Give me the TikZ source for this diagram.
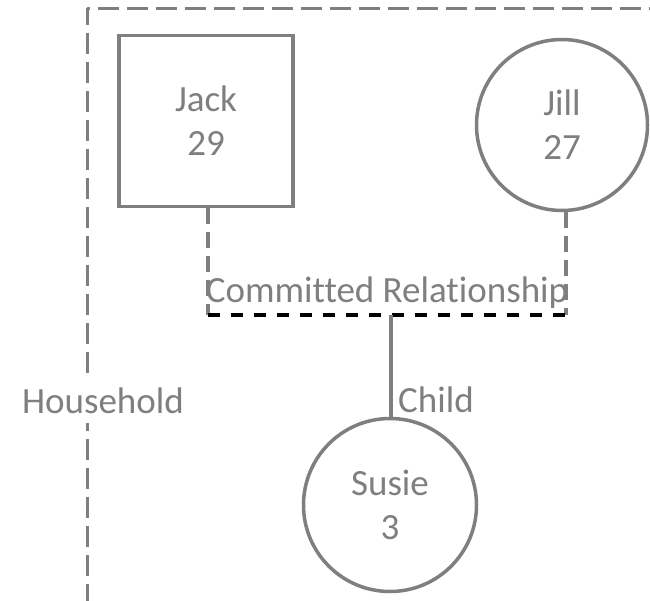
\documentclass[tikz,border=0pt]{standalone}
\usepackage{fontspec}
\setmainfont{Carlito}[Ligatures=NoCommon]
\definecolor{lg}{HTML}{7F7F7F}
\begin{document}
\begin{tikzpicture}[x=1pt,y=-1pt,
  every node/.style={font=\fontsize{37}{44}\selectfont, text=lg},
  person/.style={draw=lg, line width=3.5pt, align=center, inner sep=0pt},
  hhline/.style={draw=lg, line width=3pt, dash pattern=on 21pt off 8pt},
  linkline/.style={draw=lg, line width=3.5pt, dash pattern=on 16pt off 8pt},
  relline/.style={draw=black, line width=3.2pt, dash pattern=on 12pt off 11pt},
  childline/.style={draw=lg, line width=3.5pt}]
\useasboundingbox (0,0) rectangle (650,600);
% household boundary
\draw[hhline, dash phase=4pt] (87,8) -- (87,620);
\draw[hhline, dash phase=18pt] (87,8) -- (670,8);
\node[fill=white, anchor=base, inner xsep=10pt, inner ysep=0pt, text height=38pt, text depth=10pt] (hh) at (103,413) {Household};
% people
\node[person, rectangle, minimum width=174pt, minimum height=171pt] (jack) at (206,121) {Jack\\29};
\node[person, circle, minimum size=171pt] (jill) at (562,125) {Jill\\27};
\node[person, circle, minimum size=173pt] (susie) at (390,505) {Susie\\3};
% relationship
\coordinate (rl) at (208,315);
\coordinate (rr) at (566,315);
\coordinate (mid) at (391,315);
\draw[linkline] (jack.south -| rl) -- (rl);
\draw[linkline] (jill.south -| rr) -- (rr);
\node[anchor=base] (crel) at (387,302) {Committed Relationship};
\draw[relline] (rl) -- (rr);
\draw[childline] (mid) -- (mid |- susie.north);
\node[anchor=base west, inner sep=0pt] (child) at (398,412) {Child};
\end{tikzpicture}
\end{document}
